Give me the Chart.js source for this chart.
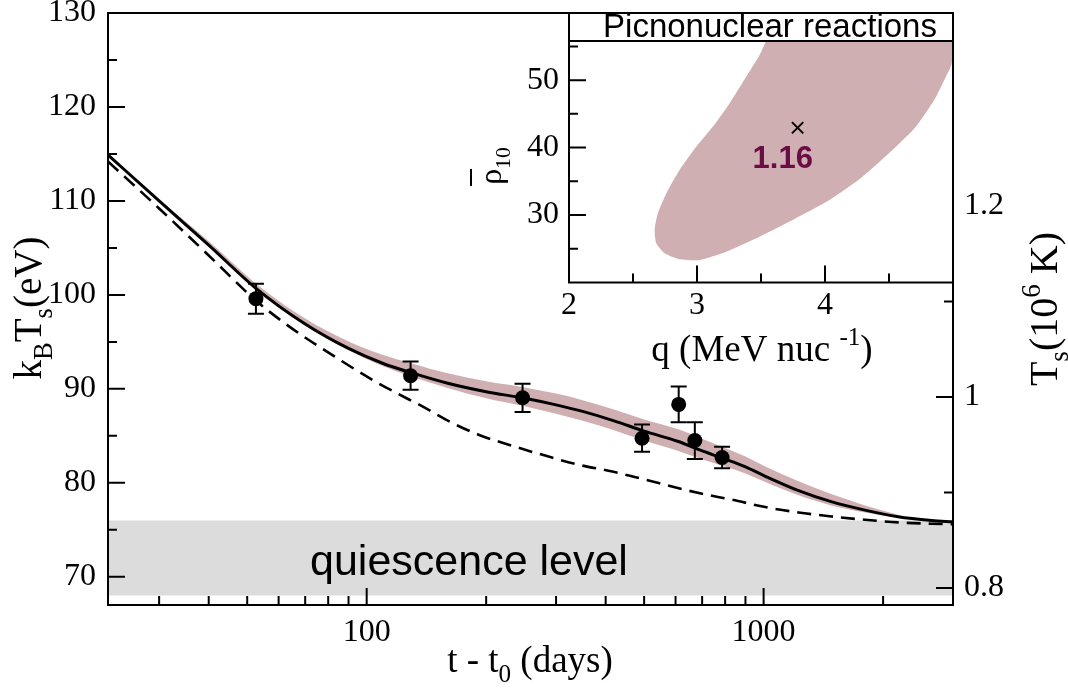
<!DOCTYPE html>
<html><head><meta charset="utf-8">
<script src="https://cdn.jsdelivr.net/npm/chart.js@4.4.1/dist/chart.umd.min.js"></script>
<style>
html,body{margin:0;padding:0;background:#fff;}
#wrap{position:relative;width:1068px;height:689px;}
canvas{position:absolute;left:0;top:0;}
</style>
</head><body>
<div id="wrap"><canvas id="main" width="1068" height="689"></canvas><canvas id="inset" width="1068" height="689"></canvas></div>
<script>
// ---------------- data (main panel) ----------------
const solidDays = [22.3, 30, 40, 52.6, 70, 90, 110, 130, 160, 200, 250, 300, 350, 420, 500, 610, 690, 790, 900, 1010, 1220, 1480, 1800, 2180, 2650, 3000];
const solidKT   = [114.9, 110.0, 105.3, 100.7, 96.9, 94.3, 92.7, 91.7, 90.6, 89.7, 89.0, 88.3, 87.6, 86.6, 85.5, 84.4, 83.5, 82.6, 81.7, 80.7, 79.2, 78.0, 77.1, 76.4, 76.0, 75.85];

const dashedDays = [22.3, 30, 40, 52.6, 64, 85.5, 104, 126, 136, 162, 192, 233, 283, 343, 416, 476, 687, 833, 1010, 1224, 1484, 1801, 2184, 2648, 3000];
const dashedKT   = [114.2, 109.2, 104.2, 99.4, 96.6, 93.1, 90.9, 89.0, 88.3, 86.5, 85.1, 83.93, 82.87, 81.91, 81.2, 80.6, 78.91, 78.2, 77.42, 76.85, 76.42, 76.07, 75.79, 75.65, 75.6];

const bandDays = [27, 40, 52.6, 70, 90, 110, 130, 160, 200, 250, 300, 350, 420, 500, 610, 690, 790, 900, 1010, 1220, 1480, 1800, 2180, 2400];
const bandHigh = [111.75, 105.7, 101.2, 97.5, 95.05, 93.6, 92.7, 91.65, 90.8, 90.15, 89.5, 88.8, 87.8, 86.75, 85.7, 84.8, 83.8, 82.8, 81.75, 80.2, 78.8, 77.6, 76.6, 76.15];
const bandLow  = [111.7, 105.25, 100.6, 96.75, 94.1, 92.4, 91.3, 90.1, 89.0, 88.15, 87.35, 86.6, 85.6, 84.5, 83.4, 82.6, 81.8, 81.0, 80.1, 78.7, 77.6, 76.85, 76.3, 76.15];

const obsDays = [52.6, 129, 247, 494, 611, 671, 786];
const obsKT   = [99.6, 91.4, 89.05, 84.75, 88.35, 84.5, 82.7];
const obsErr  = [1.6, 1.5, 1.5, 1.45, 1.9, 1.95, 1.15];

const quiescenceRange = [68, 76];
const quiescenceLabel = "quiescence level";

const xTickValues = [100, 1000];
const xTickLabels = ["100", "1000"];
const xMinorTicks = [30, 40, 50, 60, 70, 80, 90, 200, 300, 400, 500, 600, 700, 800, 900, 2000];
const yTickValues = [70, 80, 90, 100, 110, 120, 130];
const yTickLabels = ["70", "80", "90", "100", "110", "120", "130"];
const yMinorTicks = [75, 85, 95, 105, 115, 125];
const y2TickValues = [0.8, 1.0, 1.2];
const y2TickLabels = ["0.8", "1", "1.2"];
const y2MinorTicks = [0.9, 1.1, 1.3];

// ---------------- data (inset) ----------------
const ellipseQ   = [3.54, 4.99, 4.99, 4.944, 4.853, 4.710, 4.527, 4.293, 4.034, 3.747, 3.488, 3.228, 3.020, 2.864, 2.747, 2.682, 2.669, 2.694, 2.760, 2.864, 2.994, 3.123, 3.254, 3.384, 3.488, 3.54];
const ellipseRho = [55.8, 55.8, 52.47, 50.49, 47.04, 43.08, 39.63, 35.68, 32.22, 29.26, 26.79, 24.57, 23.33, 23.43, 24.32, 25.80, 27.78, 30.25, 33.21, 36.67, 40.12, 43.08, 46.54, 50.49, 53.70, 55.8];
const bestQ = [3.786];
const bestRho = [42.94];
const bestLabel = "1.16";
const bestLabelPos = [3.67, 38.3];
const insetTitle = "Picnonuclear reactions";
const qTickValues = [2, 3, 4];
const qTickLabels = ["2", "3", "4"];
const qMinorTicks = [2.5, 3.5, 4.5];
const rhoTickValues = [30, 40, 50];
const rhoTickLabels = ["30", "40", "50"];
const rhoMinorTicks = [25, 35, 45, 55];

// ---------------- helpers ----------------
const SERIF = "'Liberation Serif','Times New Roman',serif";
const SANS = "'Liberation Sans',Arial,sans-serif";
const pts = (xs, ys) => xs.map((x, i) => ({x: x, y: ys[i]}));
function zeroPad(s) { s.paddingTop = 0; s.paddingBottom = 0; s.paddingLeft = 0; s.paddingRight = 0; }

function drawRich(ctx, parts, x, y, size, rot) {
  ctx.save();
  ctx.translate(x, y);
  if (rot) ctx.rotate(rot);
  ctx.fillStyle = '#000';
  ctx.textBaseline = 'alphabetic';
  ctx.textAlign = 'left';
  let total = 0;
  const ws = parts.map(p => {
    const s = p.sub || p.sup ? size * 0.68 : size;
    ctx.font = s + 'px ' + SERIF;
    const w = ctx.measureText(p.t).width;
    total += w;
    return w;
  });
  let cx = -total / 2;
  parts.forEach((p, i) => {
    const s = p.sub || p.sup ? size * 0.68 : size;
    ctx.font = s + 'px ' + SERIF;
    let dy = 0;
    if (p.sub) dy = size * 0.28;
    if (p.sup) dy = -size * 0.42;
    ctx.fillText(p.t, cx, dy);
    cx += ws[i];
  });
  ctx.restore();
}

function inwardTicks(ctx, scale, vals, len, base, dir, horizontal) {
  vals.forEach(v => {
    const p = scale.getPixelForValue(v);
    if (horizontal) { ctx.moveTo(p, base); ctx.lineTo(p, base + dir * len); }
    else { ctx.moveTo(base, p); ctx.lineTo(base + dir * len, p); }
  });
}

// ---------------- main chart ----------------
const tickFont = {family: SERIF, size: 32};
const mainDecor = {
  id: 'mainDecor',
  afterDatasetsDraw(chart) {
    const ctx = chart.ctx;
    const xs = chart.scales.x, ys = chart.scales.y;
    ctx.save();
    ctx.strokeStyle = '#000'; ctx.lineWidth = 2;
    ctx.beginPath();
    obsDays.forEach((d, i) => {
      const px = xs.getPixelForValue(d);
      const t = ys.getPixelForValue(obsKT[i] + obsErr[i]);
      const b = ys.getPixelForValue(obsKT[i] - obsErr[i]);
      ctx.moveTo(px, t); ctx.lineTo(px, b);
      ctx.moveTo(px - 8, t); ctx.lineTo(px + 8, t);
      ctx.moveTo(px - 8, b); ctx.lineTo(px + 8, b);
    });
    ctx.stroke();
    ctx.fillStyle = '#000';
    ctx.font = '43px ' + SANS;
    ctx.textAlign = 'center'; ctx.textBaseline = 'alphabetic';
    ctx.fillText(quiescenceLabel, xs.getPixelForValue(181), ys.getPixelForValue(70.2));
    ctx.restore();
  },
  afterDraw(chart) {
    const ctx = chart.ctx, a = chart.chartArea;
    const xs = chart.scales.x, ys = chart.scales.y, y2 = chart.scales.y2;
    ctx.save();
    ctx.strokeStyle = '#000'; ctx.lineWidth = 2;
    ctx.strokeRect(a.left, a.top, a.right - a.left, a.bottom - a.top);
    ctx.beginPath();
    inwardTicks(ctx, xs, xTickValues, 17, a.bottom, -1, true);
    inwardTicks(ctx, xs, xMinorTicks, 9, a.bottom, -1, true);
    inwardTicks(ctx, ys, yTickValues.slice(0, -1), 17, a.left, 1, false);
    inwardTicks(ctx, ys, yMinorTicks, 9, a.left, 1, false);
    inwardTicks(ctx, y2, y2TickValues, 17, a.right, -1, false);
    inwardTicks(ctx, y2, y2MinorTicks, 9, a.right, -1, false);
    ctx.stroke();
    drawRich(ctx, [{t:'t - t'}, {t:'0', sub:true}, {t:' (days)'}], 530, 672, 37, 0);
    drawRich(ctx, [{t:'k'}, {t:'B', sub:true}, {t:'T'}, {t:'s', sub:true}, {t:'(eV)'}], 41, 308, 39, -Math.PI/2);
    drawRich(ctx, [{t:'T'}, {t:'s', sub:true}, {t:'(10'}, {t:'6', sup:true}, {t:' K)'}], 1057, 309, 40, -Math.PI/2);
    ctx.restore();
  }
};

new Chart(document.getElementById('main'), {
  type: 'line',
  data: {
    datasets: [
      {data: pts([22.3, 3000], [quiescenceRange[1], quiescenceRange[1]]), borderWidth: 0, pointRadius: 0, fill: '+1', backgroundColor: '#dcdcdc', order: 10},
      {data: pts([22.3, 3000], [quiescenceRange[0], quiescenceRange[0]]), borderWidth: 0, pointRadius: 0, fill: false, order: 10},
      {data: pts(bandDays, bandHigh), borderWidth: 0, pointRadius: 0, fill: '+1', backgroundColor: '#cfafb1', cubicInterpolationMode: 'monotone', order: 9},
      {data: pts(bandDays, bandLow), borderWidth: 0, pointRadius: 0, fill: false, cubicInterpolationMode: 'monotone', order: 9},
      {data: pts(obsDays, obsKT), showLine: false, pointRadius: 7.5, pointBackgroundColor: '#000', pointBorderColor: '#000', pointBorderWidth: 0, order: 1},
      {data: pts(dashedDays, dashedKT), borderColor: '#000', borderWidth: 2.6, borderDash: [14, 8], pointRadius: 0, fill: false, cubicInterpolationMode: 'monotone', order: 3},
      {data: pts(solidDays, solidKT), borderColor: '#000', borderWidth: 3, pointRadius: 0, fill: false, cubicInterpolationMode: 'monotone', order: 2}
    ]
  },
  options: {
    responsive: false, animation: false, devicePixelRatio: 1,
    layout: {padding: {top: 13, left: 0, right: 0, bottom: 0}},
    plugins: {legend: {display: false}, tooltip: {enabled: false}},
    scales: {
      x: {type: 'logarithmic', min: 22.3, max: 3000,
          afterFit(s) { s.height = 84; zeroPad(s); },
          afterBuildTicks(s) { s.ticks = xTickValues.map(v => ({value: v})); },
          ticks: {font: tickFont, color: '#000', padding: 0, maxRotation: 0, autoSkip: false, callback: (v, i) => xTickLabels[i]},
          grid: {display: false}, border: {display: false}},
      y: {type: 'linear', position: 'left', min: 67, max: 130,
          afterFit(s) { s.width = 108; zeroPad(s); },
          afterBuildTicks(s) { s.ticks = yTickValues.map(v => ({value: v})); },
          ticks: {font: tickFont, color: '#000', padding: 4, callback: (v, i) => yTickLabels[i]},
          grid: {display: false}, border: {display: false}},
      y2: {type: 'linear', position: 'right', min: 0.7822, max: 1.4021,
          afterFit(s) { s.width = 115; zeroPad(s); },
          afterBuildTicks(s) { s.ticks = y2TickValues.map(v => ({value: v})); },
          ticks: {font: tickFont, color: '#000', padding: 3, callback: (v, i) => y2TickLabels[i]},
          grid: {display: false}, border: {display: false}}
    }
  },
  plugins: [mainDecor]
});

// ---------------- inset chart ----------------
const insetDecor = {
  id: 'insetDecor',
  beforeDraw(chart) {
    const ctx = chart.ctx, a = chart.chartArea;
    ctx.save();
    ctx.fillStyle = '#fff';
    ctx.fillRect(a.left, 13, a.right - a.left, a.bottom - 13);
    ctx.restore();
  },
  afterDraw(chart) {
    const ctx = chart.ctx, a = chart.chartArea;
    const xs = chart.scales.x, ys = chart.scales.y;
    ctx.save();
    ctx.fillStyle = '#6b0d45';
    ctx.font = 'bold 31px ' + SANS;
    ctx.textAlign = 'center'; ctx.textBaseline = 'middle';
    ctx.fillText(bestLabel, xs.getPixelForValue(bestLabelPos[0]), ys.getPixelForValue(bestLabelPos[1]));
    ctx.fillStyle = '#fff';
    ctx.fillRect(a.left, 13, a.right - a.left, a.top - 13);
    ctx.strokeStyle = '#000'; ctx.lineWidth = 2;
    ctx.strokeRect(a.left, 13, a.right - a.left, a.top - 13);
    ctx.fillStyle = '#000';
    ctx.font = '33px ' + SANS;
    ctx.textAlign = 'center'; ctx.textBaseline = 'alphabetic';
    ctx.fillText(insetTitle, 770, 37);
    ctx.strokeRect(a.left, a.top, a.right - a.left, a.bottom - a.top);
    ctx.beginPath();
    inwardTicks(ctx, xs, qTickValues.slice(1), 17, a.bottom, -1, true);
    inwardTicks(ctx, xs, qMinorTicks, 9, a.bottom, -1, true);
    inwardTicks(ctx, ys, rhoTickValues, 17, a.left, 1, false);
    inwardTicks(ctx, ys, rhoMinorTicks, 9, a.left, 1, false);
    ctx.stroke();
    drawRich(ctx, [{t:'q (MeV nuc '}, {t:'-1', sup:true}, {t:')'}], 762, 361, 37, 0);
    drawRich(ctx, [{t:'\u03C1'}, {t:'10', sub:true}], 501, 166, 32, -Math.PI/2);
    ctx.beginPath();
    ctx.lineWidth = 2;
    ctx.moveTo(471, 169); ctx.lineTo(471, 186);
    ctx.stroke();
    ctx.restore();
  }
};

new Chart(document.getElementById('inset'), {
  type: 'scatter',
  data: {
    datasets: [
      {data: pts(ellipseQ, ellipseRho), showLine: true, borderWidth: 0, pointRadius: 0, tension: 0.2, fill: 'shape', backgroundColor: '#cfafb1', borderColor: 'rgba(0,0,0,0)', order: 5},
      {data: pts(bestQ, bestRho), pointStyle: 'crossRot', pointRadius: 8, borderColor: '#000', backgroundColor: '#000', pointBorderWidth: 2, borderWidth: 2, order: 1}
    ]
  },
  options: {
    responsive: false, animation: false, devicePixelRatio: 1,
    layout: {padding: {top: 41, left: 0, right: 115, bottom: 0}},
    plugins: {legend: {display: false}, tooltip: {enabled: false}},
    scales: {
      x: {type: 'linear', min: 2, max: 5,
          afterFit(s) { s.height = 689 - 282.5; zeroPad(s); },
          afterBuildTicks(s) { s.ticks = qTickValues.map(v => ({value: v})); },
          ticks: {font: tickFont, color: '#000', padding: -4, maxRotation: 0, autoSkip: false, callback: (v, i) => qTickLabels[i]},
          grid: {display: false}, border: {display: false}},
      y: {type: 'linear', min: 20, max: 55.8,
          afterFit(s) { s.width = 569; zeroPad(s); },
          afterBuildTicks(s) { s.ticks = rhoTickValues.map(v => ({value: v})); },
          ticks: {font: tickFont, color: '#000', padding: 2, callback: (v, i) => rhoTickLabels[i]},
          grid: {display: false}, border: {display: false}}
    }
  },
  plugins: [insetDecor]
});
</script>
</body></html>
